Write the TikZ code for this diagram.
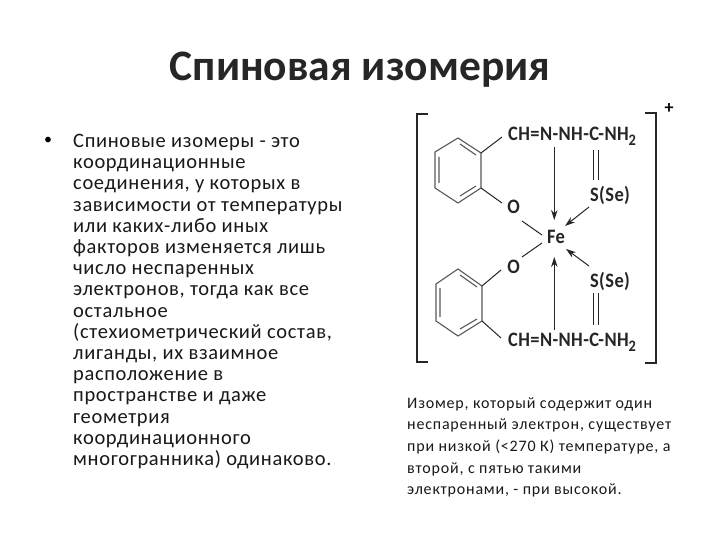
\documentclass[tikz,border=0pt]{standalone}
\usepackage{fontspec}
\setmainfont{Carlito}
\usetikzlibrary{arrows.meta}
\tikzset{
 chem/.style={inner sep=0pt,font=\fontsize{20.5}{22}\selectfont\bfseries\addfontfeatures{FakeStretch=0.9,LetterSpace=2},text=black!85},
 bond/.style={line width=1pt,black!85},
 ring/.style={line width=1.1pt,black!65},
 brk/.style={line width=1.3pt,black!85},
 coord/.style={line width=1pt,black!85,-{Stealth[length=10pt,width=6.5pt]}},
}
\newcommand{\chain}{CH=N-NH-C-NH\raisebox{-5pt}{\fontsize{16}{16}\selectfont 2}}
\begin{document}
\begin{tikzpicture}[x=1pt,y=-1pt]
\useasboundingbox (0,0) rectangle (720,540);
\fill[white] (0,0) rectangle (720,540);
\node[font=\fontsize{43.5}{46}\selectfont\bfseries,text=black!85,inner sep=0pt] (title) at (360,70) {Спиновая изомерия};
\node[font=\fontsize{16}{21}\selectfont,inner sep=0pt] (bul) at (48,141) {•};
\node[anchor=north west,inner sep=0pt,align=left,font=\fontsize{20.5}{21.2}\selectfont\addfontfeatures{LetterSpace=3.2},text=black!90] (body) at (73,134) {Спиновые изомеры - это\\координационные\\соединения, у которых в\\зависимости от температуры\\или каких-либо иных\\факторов изменяется лишь\\число неспаренных\\электронов, тогда как все\\остальное\\(стехиометрический состав,\\лиганды, их взаимное\\расположение в\\пространстве и даже\\геометрия\\координационного\\многогранника) одинаково.};
\node[anchor=north west,inner sep=0pt,align=left,font=\fontsize{16}{21.7}\selectfont\addfontfeatures{LetterSpace=5},text=black!90] (note) at (407,397) {Изомер, который содержит один\\неспаренный электрон, существует\\при низкой (<270 К) температуре, а\\второй, с пятью такими\\электронами, - при высокой.};
% brackets
\draw[brk] (428,114) -- (417,114) -- (417,362) -- (428,362);
\draw[brk] (645,113) -- (656,113) -- (656,363) -- (645,363);
\node[font=\fontsize{18}{18}\selectfont\bfseries,inner sep=0pt] (plus) at (669,109) {+};
% text
\node[chem,anchor=west] (ch1) at (508,136) {\chain};
\node[chem,anchor=west] (ch2) at (508,342) {\chain};
\node[chem] (s1) at (610,195) {S(Se)};
\node[chem] (s2) at (610,281) {S(Se)};
\node[chem] (o1) at (513.5,207) {O};
\node[chem] (o2) at (513.5,267) {O};
\node[chem] (fe) at (556,237) {Fe};
% rings
\draw[ring] (458,138) -- (481,153) -- (481,188) -- (458,203) -- (435,188) -- (435,152) -- cycle;
\draw[ring] (460,144) -- (476,155) (476,186) -- (460,196) (439,157) -- (439,183);
\draw[ring] (458,269) -- (482,286) -- (482,321) -- (458,336) -- (436,321) -- (436,284) -- cycle;
\draw[ring] (460,275) -- (477,287) (477,319) -- (460,329) (440,288) -- (440,317);
% named bond ends
\coordinate (r1a) at (481,153); \coordinate (r1b) at (481,188);
\coordinate (r2a) at (482,286); \coordinate (r2b) at (482,321);
\coordinate (c1a) at (502,137); \coordinate (c2a) at (501,338);
\coordinate (ob1) at (502,203); \coordinate (ob2) at (501,270);
\coordinate (of1) at (522,221); \coordinate (of2) at (522,257);
\coordinate (fl1) at (542,235); \coordinate (fl2) at (542,243);
\coordinate (n1) at (554.3,147); \coordinate (n2) at (554.3,330);
\coordinate (fe1) at (554.3,220); \coordinate (fe2) at (554.3,257);
\coordinate (sb1) at (589,207); \coordinate (sf1) at (565,226);
\coordinate (sb2) at (589,266); \coordinate (sf2) at (566,249);
\coordinate (d1a) at (593.3,150); \coordinate (d1b) at (593.3,180);
\coordinate (d2a) at (598.3,150); \coordinate (d2b) at (598.3,180);
\coordinate (d3a) at (593.3,293); \coordinate (d3b) at (593.3,325);
\coordinate (d4a) at (598.3,293); \coordinate (d4b) at (598.3,325);
\draw[bond] (r1a) -- (c1a);
\draw[bond] (r1b) -- (ob1);
\draw[bond] (r2a) -- (ob2);
\draw[bond] (r2b) -- (c2a);
\draw[bond] (of1) -- (fl1);
\draw[bond] (of2) -- (fl2);
\draw[coord] (n1) -- (fe1);
\draw[coord] (n2) -- (fe2);
\draw[coord] (sb1) -- (sf1);
\draw[coord] (sb2) -- (sf2);
\draw[bond] (d1a) -- (d1b);
\draw[bond] (d2a) -- (d2b);
\draw[bond] (d3a) -- (d3b);
\draw[bond] (d4a) -- (d4b);
\end{tikzpicture}
\end{document}
